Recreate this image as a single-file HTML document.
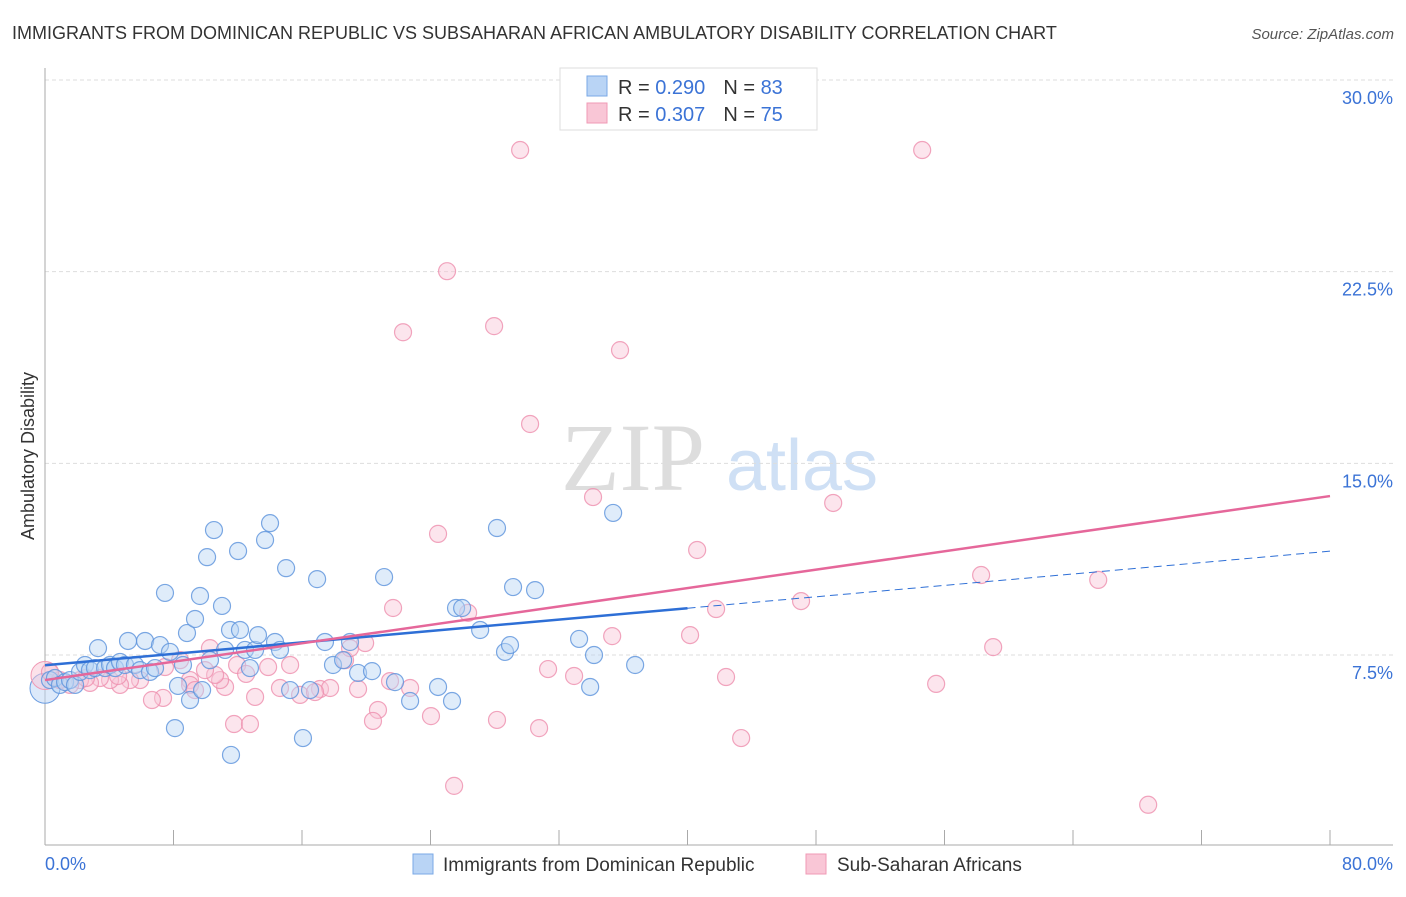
<!DOCTYPE html>
<html><head><meta charset="utf-8"><style>
body{margin:0;background:#fff;font-family:"Liberation Sans",sans-serif}
svg text{font-family:"Liberation Sans",sans-serif}
</style></head><body>
<svg id="c" width="1406" height="892">
<text x="12" y="39" font-size="18" fill="#333">IMMIGRANTS FROM DOMINICAN REPUBLIC VS SUBSAHARAN AFRICAN AMBULATORY DISABILITY CORRELATION CHART</text>
<text x="1394" y="39" font-size="15" fill="#555" text-anchor="end" font-style="italic">Source: ZipAtlas.com</text>
<g>
<text x="633" y="490" font-size="96" fill="#ddd" text-anchor="middle" font-family="Liberation Serif" style="font-family:'Liberation Serif',serif">ZIP</text>
<text x="802" y="490" font-size="72" fill="#cfe0f5" text-anchor="middle">atlas</text>
</g>
<g id="grid"></g>
<g id="axes"></g>
<g id="marks"></g>
<g>
<rect x="560" y="68" width="257" height="62" fill="#fff" stroke="#ddd"/>
<rect x="587" y="76" width="20" height="20" fill="#b9d4f5" stroke="#7aa8e6"/>
<text x="618" y="94" font-size="20" fill="#333">R = <tspan fill="#3b73d6">0.290</tspan><tspan dx="18">N = </tspan><tspan fill="#3b73d6">83</tspan></text>
<rect x="587" y="103" width="20" height="20" fill="#f9c6d6" stroke="#f09ab5"/>
<text x="618" y="121" font-size="20" fill="#333">R = <tspan fill="#3b73d6">0.307</tspan><tspan dx="18">N = </tspan><tspan fill="#3b73d6">75</tspan></text>
</g>
<text transform="translate(34,456) rotate(-90)" font-size="18" fill="#333" text-anchor="middle">Ambulatory Disability</text>
<g>
<rect x="413" y="854" width="20" height="20" fill="#b9d4f5" stroke="#7aa8e6"/>
<text x="443" y="871" font-size="19" fill="#333">Immigrants from Dominican Republic</text>
<rect x="806" y="854" width="20" height="20" fill="#f9c6d6" stroke="#f09ab5"/>
<text x="837" y="871" font-size="19" fill="#333">Sub-Saharan Africans</text>
</g>
</svg>
<script>
const yTicks=[7.5,15,22.5,30];
const yTickLabels=["7.5%","15.0%","22.5%","30.0%"];
const xTickLabels=["0.0%","80.0%"];
const blueX=[0.31,0.62,0.93,1.25,1.56,1.87,2.18,2.49,2.80,3.11,3.30,3.74,4.05,4.36,4.67,4.98,5.17,5.60,5.92,6.23,6.54,6.85,7.16,7.47,7.78,8.09,8.28,8.59,8.84,9.03,9.34,9.65,9.78,10.09,10.27,10.52,11.02,11.21,11.52,11.58,12.02,12.14,12.45,12.76,13.08,13.26,13.70,14.01,14.32,14.63,15.01,15.26,16.06,16.50,16.94,17.43,17.93,18.56,18.99,19.49,20.36,21.11,21.79,22.73,24.47,25.34,25.59,25.97,27.09,28.14,28.64,28.95,29.14,30.51,33.25,33.94,34.18,35.37,36.74];
const blueY=[6.52,6.60,6.33,6.44,6.52,6.33,6.84,7.11,6.91,6.99,7.77,6.99,7.11,6.99,7.23,7.11,8.05,7.11,6.91,8.05,6.84,6.99,7.89,9.93,7.62,4.64,6.29,7.11,8.36,5.74,8.91,9.81,6.13,11.33,7.30,12.39,9.42,7.70,8.48,3.59,11.57,8.48,7.70,6.99,7.70,8.28,12.00,12.66,8.01,7.70,10.90,6.13,4.25,6.13,10.47,8.01,7.11,7.30,8.01,6.80,6.87,10.55,6.44,5.70,6.25,5.70,9.34,9.34,8.48,12.47,7.62,7.89,10.16,10.04,8.13,6.25,7.50,13.06,7.11];
const pinkX=[25.03,29.58,54.61,22.29,27.96,35.80,30.20,34.12,24.47,49.07,40.60,58.28,65.57,21.67,26.34,47.07,41.78,35.31,40.16,59.03,18.68,19.93,18.99,10.27,8.41,7.47,11.96,13.89,15.26,31.32,32.94,42.40,55.48,21.48,22.73,17.12,19.49,17.75,14.63,15.88,13.08,11.21,10.90,10.59,9.03,9.03,7.35,6.66,5.92,5.29,4.67,4.05,3.42,2.80,2.18,1.56,0.93,0.31,20.73,20.42,24.03,28.14,30.76,11.77,12.76,43.34,25.47,68.68,9.34,9.96,4.55,2.55,12.52,16.81];
const pinkY=[22.52,27.26,27.26,20.13,20.37,19.43,16.54,13.68,12.24,13.45,11.61,10.63,10.44,9.34,9.15,9.61,9.30,8.24,8.28,7.81,7.30,7.97,7.77,7.77,7.30,7.03,7.11,7.03,7.11,6.95,6.68,6.64,6.37,6.48,6.21,6.17,6.17,6.21,6.21,5.94,5.86,6.25,6.52,6.72,6.52,6.33,5.82,5.74,6.52,6.52,6.33,6.52,6.60,6.41,6.52,6.33,6.52,6.84,5.35,4.92,5.11,4.96,4.64,4.80,4.80,4.25,2.38,1.64,6.13,6.91,6.68,6.60,6.76,6.05];
const blueTrend=[7.10,0.0558]; // intercept, slope
const pinkTrend=[6.52,0.09];
const X0=45,X1=1330,Y0=846.7,Y30=80;
const sx=v=>X0+(X1-X0)*v/80;
const sy=v=>Y0-(Y0-Y30)*v/30;
const NS="http://www.w3.org/2000/svg";
function mk(tag,attrs,parent){const e=document.createElementNS(NS,tag);for(const k in attrs)e.setAttribute(k,attrs[k]);parent.appendChild(e);return e;}
const grid=document.getElementById('grid'),axes=document.getElementById('axes'),marks=document.getElementById('marks');
yTicks.forEach((t,i)=>{
 const l=mk('line',{x1:X0,x2:1393,y1:sy(t),y2:sy(t),stroke:'#ddd','stroke-dasharray':'4,3'},grid);
 
 
 const tx=mk('text',{x:1393,y:sy(t)+24,'font-size':18,fill:'#3b73d6','text-anchor':'end'},axes);
 tx.textContent=yTickLabels[i];
 
 
});
const ya=mk('line',{x1:X0,x2:X0,y1:68,y2:845,stroke:'#aaa'},axes);


const xa=mk('line',{x1:X0,x2:1393,y1:845,y2:845,stroke:'#aaa'},axes);


for(let i=0;i<=10;i++){
 const t=mk('line',{x1:sx(i*8),x2:sx(i*8),y1:830,y2:845,stroke:'#aaa'},axes);
 
 
}
const xl0=mk('text',{x:45,y:870,'font-size':18,fill:'#3b73d6'},axes);xl0.textContent=xTickLabels[0];


const xl1=mk('text',{x:1393,y:870,'font-size':18,fill:'#3b73d6','text-anchor':'end'},axes);xl1.textContent=xTickLabels[1];


function dots(xs,ys,fill,stroke,name){
 xs.forEach((v,i)=>{
  const c=mk('circle',{cx:sx(v),cy:sy(ys[i]),r:8.5,fill:fill,'fill-opacity':0.45,stroke:stroke,'stroke-width':1.2,'stroke-opacity':0.8},marks);
  
  
 });
}
const b0=mk('circle',{cx:sx(0),cy:sy(6.2),r:15,fill:'#b9d4f5','fill-opacity':0.5,stroke:'#6a9ce0'},marks);


const p0=mk('circle',{cx:sx(0),cy:sy(6.7),r:14,fill:'#f9c6d6','fill-opacity':0.5,stroke:'#f09ab5'},marks);


dots(pinkX,pinkY,'#f9c6d6','#ee8fae','pink-point');
dots(blueX,blueY,'#b9d4f5','#5b92dc','blue-point');
const bl=mk('line',{x1:sx(0),y1:sy(blueTrend[0]),x2:sx(40),y2:sy(blueTrend[0]+blueTrend[1]*40),stroke:'#2e6fd6','stroke-width':2.5},marks);


const bd=mk('line',{x1:sx(40),y1:sy(blueTrend[0]+blueTrend[1]*40),x2:sx(80),y2:sy(blueTrend[0]+blueTrend[1]*80),stroke:'#2e6fd6','stroke-width':1,'stroke-dasharray':'8,5'},marks);


const pl=mk('line',{x1:sx(0),y1:sy(pinkTrend[0]),x2:sx(80),y2:sy(pinkTrend[0]+pinkTrend[1]*80),stroke:'#e5679a','stroke-width':2.5},marks);


</script>
</body></html>
